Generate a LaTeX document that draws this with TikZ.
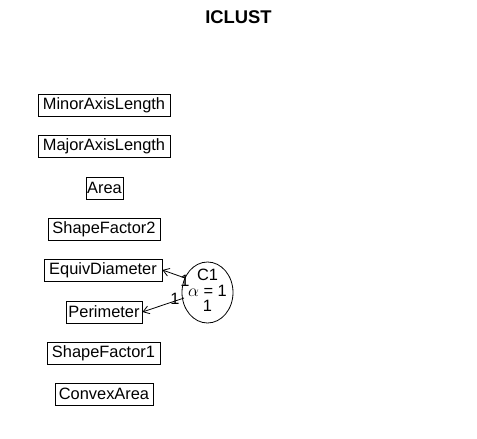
\documentclass[tikz,border=0pt]{standalone}
\usepackage{fontspec}
\setmainfont{Liberation Sans}
\usetikzlibrary{shapes.geometric,arrows.meta}
\begin{document}
\begin{tikzpicture}[x=1pt,y=-1pt,
  var/.style={draw,line width=0.8pt,inner sep=0pt,minimum height=22pt,font=\fontsize{16.4}{16.4}\selectfont},
  clus/.style={draw,ellipse,line width=0.8pt,minimum width=51pt,minimum height=61pt,inner sep=0pt},
  lab/.style={font=\fontsize{16.4}{16.4}\selectfont,inner sep=0pt},
  conn/.style={line width=0.8pt,-{Straight Barb[length=6pt,width=8pt]}}]
\useasboundingbox (0,0) rectangle (477,439);
\node[font=\bfseries\fontsize{18.4}{18.4}\selectfont] (title) at (238.5,17) {ICLUST};
\node[var,minimum width=132pt] (mal) at (104,105) {MinorAxisLength};
\node[var,minimum width=132pt] (maj) at (104,146) {MajorAxisLength};
\node[var,minimum width=37pt] (area) at (104.5,188) {Area};
\node[var,minimum width=112pt] (sf2) at (104,229) {ShapeFactor2};
\node[var,minimum width=118pt] (ed) at (103,270) {EquivDiameter};
\node[var,minimum width=76pt] (per) at (104,312) {Perimeter};
\node[var,minimum width=113pt] (sf1) at (103.5,353) {ShapeFactor1};
\node[var,minimum width=98pt] (ca) at (104,394) {ConvexArea};
\node[clus] (c1) at (207.5,292.5) {};
\node[lab] (c1a) at (207.5,275) {C1};
\node[lab] (c1b) at (207.5,291) {$\alpha$ = 1};
\node[lab] (c1c) at (207.5,306) {1};
\coordinate (s1) at (185,278);
\coordinate (s2) at (184,298);
\draw[conn] (s1) -- (ed.east);
\draw[conn] (s2) -- (per.east);
\node[lab] (l1) at (185,281) {1};
\node[lab] (l2) at (175,299) {1};
\end{tikzpicture}
\end{document}
